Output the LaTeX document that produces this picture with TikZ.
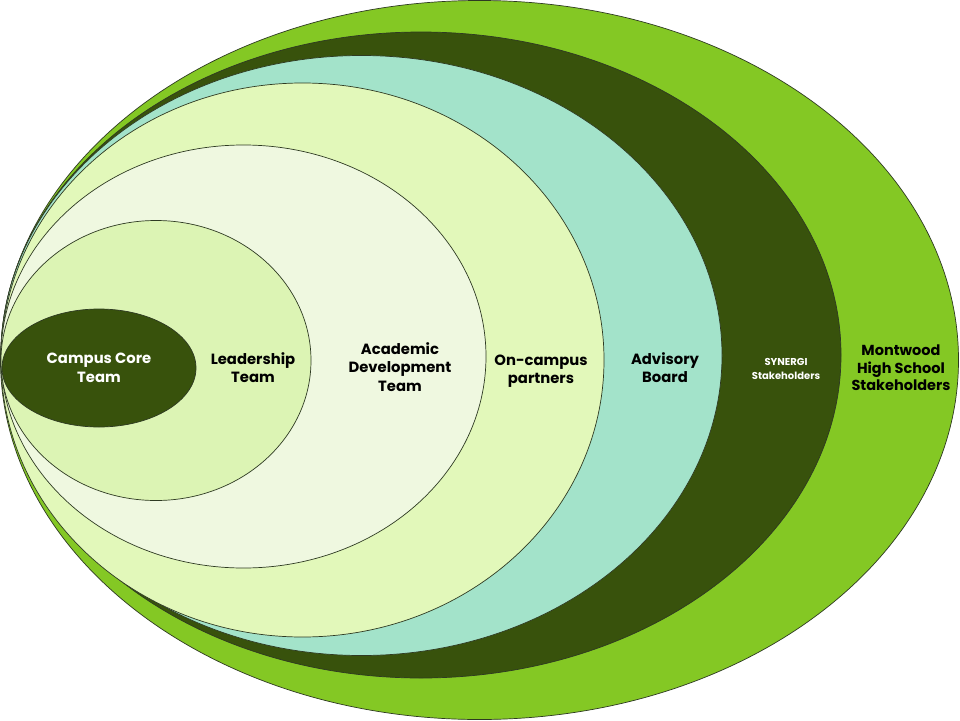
\documentclass[tikz,border=0pt]{standalone}
\usepackage{fontspec}
\setmainfont{Poppins}
\usetikzlibrary{shapes.geometric}
\definecolor{brightgreen}{HTML}{84C824}
\definecolor{darkolive}{HTML}{38520C}
\definecolor{teal}{HTML}{A3E3CA}
\definecolor{paleyellow}{HTML}{E2F8BA}
\definecolor{palest}{HTML}{EFF8E0}
\definecolor{leadgreen}{HTML}{DCF4B4}
\definecolor{rimcol}{HTML}{2E3A22}
\tikzset{
  ring/.style={draw=rimcol, line width=0.7pt},
  lbl/.style={align=center, font=\fontsize{14.8}{18.5}\selectfont\bfseries, text=black, inner sep=0pt},
  wlbl/.style={lbl, text=white},
  slbl/.style={align=center, font=\fontsize{10}{14}\selectfont\bfseries, text=white, inner sep=0pt}
}
\begin{document}
\begin{tikzpicture}[x=1pt,y=-1pt]
\useasboundingbox (0,0) rectangle (960,720);
\fill[white] (0,0) rectangle (960,720);
\draw[ring, fill=brightgreen] (479.5,360) ellipse [x radius=479, y radius=359.5];
\draw[ring, fill=darkolive] (421,355) ellipse [x radius=420, y radius=323];
\draw[ring, fill=teal] (361.5,355.5) ellipse [x radius=360.5, y radius=300];
\draw[ring, fill=paleyellow] (302.5,360) ellipse [x radius=301.5, y radius=277];
\draw[ring, fill=palest] (243.5,356.5) ellipse [x radius=242.5, y radius=211.5];
\draw[ring, fill=leadgreen] (156,360.5) ellipse [x radius=155, y radius=140];
\draw[ring, fill=darkolive] (99,368) ellipse [x radius=97, y radius=59];

\node[wlbl] (core) at (99,368) {Campus Core\\Team};
\node[lbl] (lead) at (253,367.5) {Leadership\\Team};
\node[lbl] (acad) at (400,367) {Academic\\Development\\Team};
\node[lbl] (oncamp) at (541,371) {On-campus\\partners};
\node[lbl] (adv) at (665,367.5) {Advisory\\Board};
\node[slbl] (syn) at (786,369) {SYNERGI\\Stakeholders};
\node[lbl, font=\fontsize{14.5}{17.5}\selectfont\bfseries] (mont) at (901,368) {Montwood\\High School\\Stakeholders};
\end{tikzpicture}
\end{document}
